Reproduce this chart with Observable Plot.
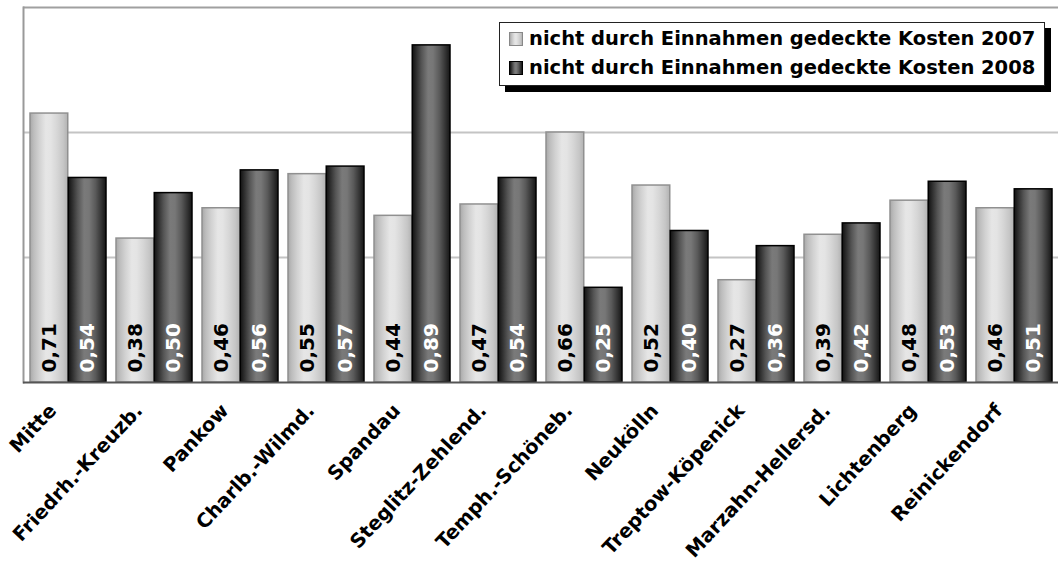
<!DOCTYPE html>
<html>
<head>
<meta charset="utf-8">
<script src="https://cdn.jsdelivr.net/npm/d3@7"></script>
<script src="https://cdn.jsdelivr.net/npm/@observablehq/plot@0.6"></script>
<style>
  html, body { margin: 0; padding: 0; background: #fff; overflow: hidden; }
  #wrap { position: relative; width: 1058px; height: 563px; font-family: "DejaVu Sans", Verdana, sans-serif; }
  #legend { position: absolute; left: 499px; top: 22px; width: 546px; height: 64px; box-sizing: border-box;
    border: 1px solid #222; background: #fff; box-shadow: 6px 6px 0 #000; }
  .row { position: absolute; left: 9px; height: 14px; display: flex; align-items: center; white-space: nowrap; }
  .sw { width: 12px; height: 12px; box-sizing: content-box; margin-right: 6px; }
  .lab { font-size: 19.5px; font-weight: bold; color: #000; line-height: 14px; }
</style>
</head>
<body>
<div id="wrap"></div>
<script>
const districts = ["Mitte", "Friedrh.-Kreuzb.", "Pankow", "Charlb.-Wilmd.", "Spandau", "Steglitz-Zehlend.",
  "Temph.-Schöneb.", "Neukölln", "Treptow-Köpenick", "Marzahn-Hellersd.", "Lichtenberg", "Reinickendorf"];
const costs2007 = [0.71, 0.38, 0.46, 0.55, 0.44, 0.47, 0.66, 0.52, 0.27, 0.39, 0.48, 0.46];
const costs2008 = [0.54, 0.50, 0.56, 0.57, 0.89, 0.54, 0.25, 0.40, 0.36, 0.42, 0.53, 0.51];
const seriesNames = ["nicht durch Einnahmen gedeckte Kosten 2007", "nicht durch Einnahmen gedeckte Kosten 2008"];
const yMax = 0.99;
const gridValues = [0.33, 0.66];

const rows = districts.map((d, i) => ({district: d, v2007: costs2007[i], v2008: costs2008[i]}));
const fmt = v => d3.format(".2f")(v).replace(".", ",");
const font = "DejaVu Sans, Verdana, sans-serif";

const svg = Plot.plot({
  width: 1058,
  height: 563,
  marginTop: 7,
  marginBottom: 181,
  marginLeft: 23,
  marginRight: 0,
  style: {fontFamily: font, background: "white"},
  x: {domain: districts, padding: 0, axis: null},
  y: {domain: [0, yMax], axis: null},
  marks: [
    Plot.ruleY(gridValues, {stroke: "#c4c4c4", strokeWidth: 2}),
    Plot.ruleY([yMax], {stroke: "#a0a0a0", strokeWidth: 2}),
    Plot.frame({anchor: "left", stroke: "#999", strokeWidth: 2}),
    Plot.barY(rows, {x: "district", y: "v2007", fill: "url(#g2007)", stroke: "#909090", strokeWidth: 1.5,
      insetLeft: 5, insetRight: 43.25}),
    Plot.barY(rows, {x: "district", y: "v2008", fill: "url(#g2008)", stroke: "#000", strokeWidth: 1.5,
      insetLeft: 43.25, insetRight: 5}),
    Plot.ruleY([0], {stroke: "#555", strokeWidth: 2}),
    Plot.text(rows, {x: "district", y: () => 0, text: d => fmt(d.v2007), rotate: -90, textAnchor: "start",
      dx: -19.1, dy: -10, fill: "#000", fontSize: 20, fontWeight: "bold", fontFamily: font}),
    Plot.text(rows, {x: "district", y: () => 0, text: d => fmt(d.v2008), rotate: -90, textAnchor: "start",
      dx: 19.1, dy: -10, fill: "#fff", fontSize: 20, fontWeight: "bold", fontFamily: font}),
    Plot.text(rows, {x: "district", text: "district", frameAnchor: "bottom", rotate: -47, textAnchor: "end",
      dx: -11, dy: 29, fill: "#000", fontSize: 19.5, fontWeight: "bold", fontFamily: font})
  ]
});

const stops2007 = [[0, "#a8a8a8"], [0.1, "#bdbdbd"], [0.25, "#d2d2d2"], [0.42, "#e6e6e6"], [0.55, "#e4e4e4"], [0.72, "#d6d6d6"], [0.88, "#c6c6c6"], [1, "#b2b2b2"]];
const stops2008 = [[0, "#111"], [0.1, "#2c2c2c"], [0.25, "#555"], [0.42, "#7a7a7a"], [0.55, "#777"], [0.72, "#5a5a5a"], [0.88, "#333"], [1, "#151515"]];
const defs = d3.select(svg).insert("defs", ":first-child");
[["g2007", stops2007], ["g2008", stops2008]].forEach(([id, stops]) => {
  const g = defs.append("linearGradient").attr("id", id).attr("x1", 0).attr("x2", 1).attr("y1", 0).attr("y2", 0);
  stops.forEach(([o, c]) => g.append("stop").attr("offset", o).attr("stop-color", c));
});

const wrap = document.getElementById("wrap");
wrap.appendChild(svg);

const css = stops => "linear-gradient(to right, " + stops.map(([o, c]) => `${c} ${o * 100}%`).join(", ") + ")";
const legend = document.createElement("div");
legend.id = "legend";
[[stops2007, "#888", 9], [stops2008, "#000", 38]].forEach(([stops, border, top], i) => {
  const row = document.createElement("div");
  row.className = "row";
  row.style.top = top + "px";
  const sw = document.createElement("div");
  sw.className = "sw";
  sw.style.background = css(stops);
  sw.style.border = "1px solid " + border;
  const lab = document.createElement("span");
  lab.className = "lab";
  lab.textContent = seriesNames[i];
  row.appendChild(sw);
  row.appendChild(lab);
  legend.appendChild(row);
});
wrap.appendChild(legend);
</script>
</body>
</html>
